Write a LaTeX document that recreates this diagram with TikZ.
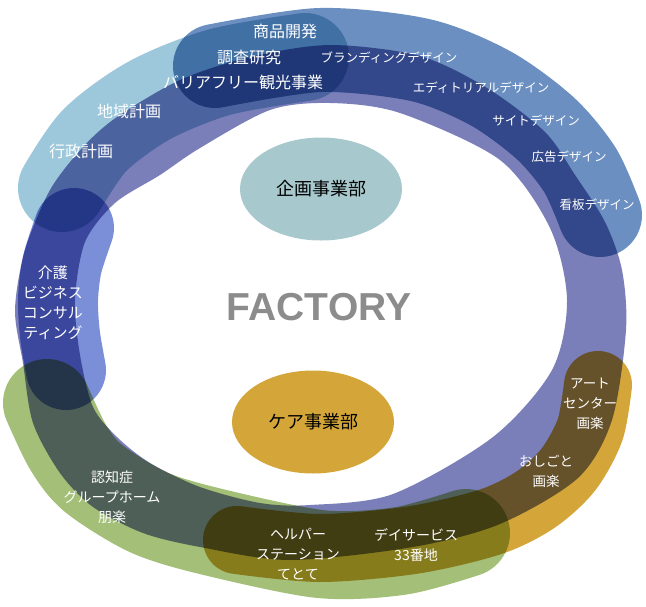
\documentclass[tikz,border=0pt]{standalone}
\usepackage{fontspec}
\setmainfont{Liberation Sans}
\newfontfamily\jp{Noto Sans CJK JP}
\usetikzlibrary{shapes.geometric}
\definecolor{ringc}{RGB}{123,127,185}
\definecolor{steelc}{RGB}{107,143,192}
\definecolor{skyc}{RGB}{157,200,220}
\definecolor{peric}{RGB}{123,143,216}
\definecolor{greenc}{RGB}{163,191,120}
\definecolor{goldc}{RGB}{212,166,58}
\definecolor{tealc}{RGB}{167,200,204}
\definecolor{factoryc}{RGB}{140,140,140}

\begin{document}
\begin{tikzpicture}[x=1pt,y=-1pt]
\tikzset{band/.style={line width=#1,line cap=round,line join=round}}
\tikzset{lbl/.style={text=white,align=center,inner sep=0pt,font=\jp\fontsize{#1}{20}\selectfont}}
\tikzset{dept/.style={ellipse,fill=#1,inner sep=0pt,minimum width=162pt,minimum height=103pt}}
\useasboundingbox (0,0) rectangle (646,606);

\begin{scope}[blend mode=multiply]
% ring
\fill[ringc,even odd rule]
  plot[smooth cycle] coordinates {(15,310) (23,363) (33,423) (60,473) (93,507) (143,533) (200,547) (290,560) (413,547) (500,524) (578,478) (612,420) (626,330) (622,270) (605,222) (575,175) (545,132) (487,88) (420,56) (330,45) (250,57) (180,80) (117,117) (83,147) (50,190) (25,250)}
  plot[smooth cycle] coordinates {(75,300) (85,242) (115,203) (160,175) (200,148) (270,110) (330,103) (400,113) (500,160) (550,228) (567,300) (552,370) (493,437) (393,494) (310,505) (260,503) (200,487) (150,463) (117,437) (93,407) (80,355)};
% arcs
\draw[steelc,band=84pt] plot[smooth] coordinates {(215,66) (320,50) (420,60) (490,88) (545,128) (580,170) (600,215)};
\draw[skyc,band=88pt] plot[smooth] coordinates {(62,188) (95,140) (150,100) (220,72) (305,57)};
\draw[peric,band=80pt] plot[smooth] coordinates {(74,228) (62,265) (58,300) (60,335) (66,370)};
\draw[greenc,band=88pt] plot[smooth] coordinates {(47,403) (68,447) (93,478) (148,512) (209,531) (320,554) (400,551) (466,533)};
\draw[goldc,band=68pt] plot[smooth] coordinates {(598,385) (590,430) (568,470) (535,500) (490,522) (413,540) (320,548) (237,540)};
\end{scope}

\node[dept=tealc] (kikaku) at (321,189) {};
\node[dept=goldc] (care) at (313,422) {};
\node[font=\jp\fontsize{18}{20}\selectfont] at (kikaku) {企画事業部};
\node[font=\jp\fontsize{18}{20}\selectfont] at (care) {ケア事業部};
\node[text=factoryc,font=\bfseries\fontsize{39}{40}\selectfont] (factory) at (319,307) {FACTORY};

\node[lbl=16] (shohin) at (285,31) {商品開発};
\node[lbl=16] (chosa) at (249,57) {調査研究};
\node[lbl=16] (barrier) at (243,82) {バリアフリー観光事業};
\node[lbl=16] (chiiki) at (129,111) {地域計画};
\node[lbl=16] (gyosei) at (81,151) {行政計画};
\node[lbl=12.5] (brand) at (389,58) {ブランディングデザイン};
\node[lbl=12.5] (editorial) at (481,88) {エディトリアルデザイン};
\node[lbl=12.5] (site) at (536,121) {サイトデザイン};
\node[lbl=12.5] (koukoku) at (569,157) {広告デザイン};
\node[lbl=12.5] (kanban) at (597,205) {看板デザイン};
\node[lbl=15] (kaigo) at (53,303) {介護\\ビジネス\\コンサル\\ティング};
\node[lbl=14] (ninchi) at (112,497) {認知症\\グループホーム\\朋楽};
\node[lbl=14] (helper) at (298,554) {ヘルパー\\ステーション\\てとて};
\node[lbl=14] (dayserv) at (416,545) {デイサービス\\33番地};
\node[lbl=13.5] (art) at (590,404) {アート\\センター\\画楽};
\node[lbl=13.5] (oshigoto) at (546,471) {おしごと\\画楽};
\end{tikzpicture}
\end{document}
